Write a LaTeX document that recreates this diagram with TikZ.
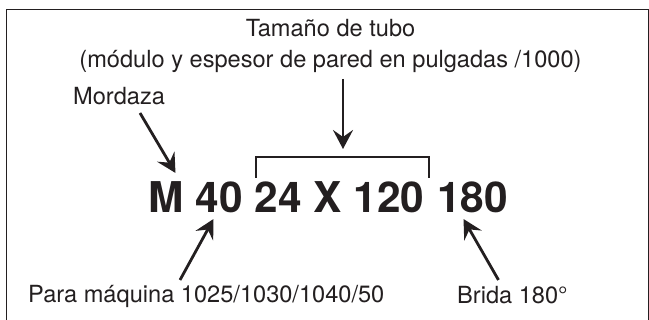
\documentclass[tikz,border=0pt]{standalone}
\usepackage{fontspec}
\setmainfont{TeX Gyre Heros}
\usetikzlibrary{arrows.meta}
\definecolor{ink}{HTML}{231F20}
\tikzset{
  lbl/.style={font=\fontsize{23.6}{26}\selectfont, text=ink, inner sep=0pt},
  code/.style={font=\fontsize{42.4}{46}\selectfont\bfseries, text=ink, inner sep=0pt, anchor=base west},
  ptr/.style={draw=ink, line width=2.8pt, -{Stealth[length=19pt,width=20pt,inset=7pt]}},
  brk/.style={draw=ink, line width=1.2pt},
  frame/.style={draw=ink, line width=1.3pt}
}
\begin{document}
\begin{tikzpicture}[x=1pt,y=-1pt]
\useasboundingbox (0,0) rectangle (649,320);
% frame
\draw[frame] (6.5,321) -- (6.5,9.5) -- (648.3,9.5) -- (648.3,321);
% labels
\node[lbl, anchor=base] (tam) at (330.5,37) {Tamaño de tubo};
\node[lbl, anchor=base] (mod) at (330.5,68) {(módulo y espesor de pared en pulgadas /1000)};
\node[lbl, anchor=base west] (mor) at (73,105) {Mordaza};
\node[lbl, anchor=base west] (para) at (28,303) {Para máquina 1025/1030/1040/50};
\node[lbl, anchor=base west] (bri) at (457,304) {Brida 180°};
% code
\node[code] (m) at (148,212.5) {M};
\node[code] (n40) at (195.3,212.5) {40};
\node[code] (size) at (254.6,212.5) {24 X 120};
\node[code] (n180) at (436.8,212.5) {180};
% bracket
\coordinate (bl) at (256,178);
\coordinate (br) at (429,178);
\draw[brk] (bl) -- (256,157) -- (429,157) -- (br);
% arrow endpoints
\coordinate (t1) at (343,79);
\coordinate (h1) at (343,149);
\coordinate (t2) at (140,113);
\coordinate (h2) at (175.5,173);
\coordinate (t3) at (180,280);
\coordinate (h3) at (213.5,219);
\coordinate (t4) at (498.5,280);
\coordinate (h4) at (463.5,219);
\draw[ptr] (t1) -- (h1);
\draw[ptr] (t2) -- (h2);
\draw[ptr] (t3) -- (h3);
\draw[ptr] (t4) -- (h4);
\end{tikzpicture}
\end{document}
